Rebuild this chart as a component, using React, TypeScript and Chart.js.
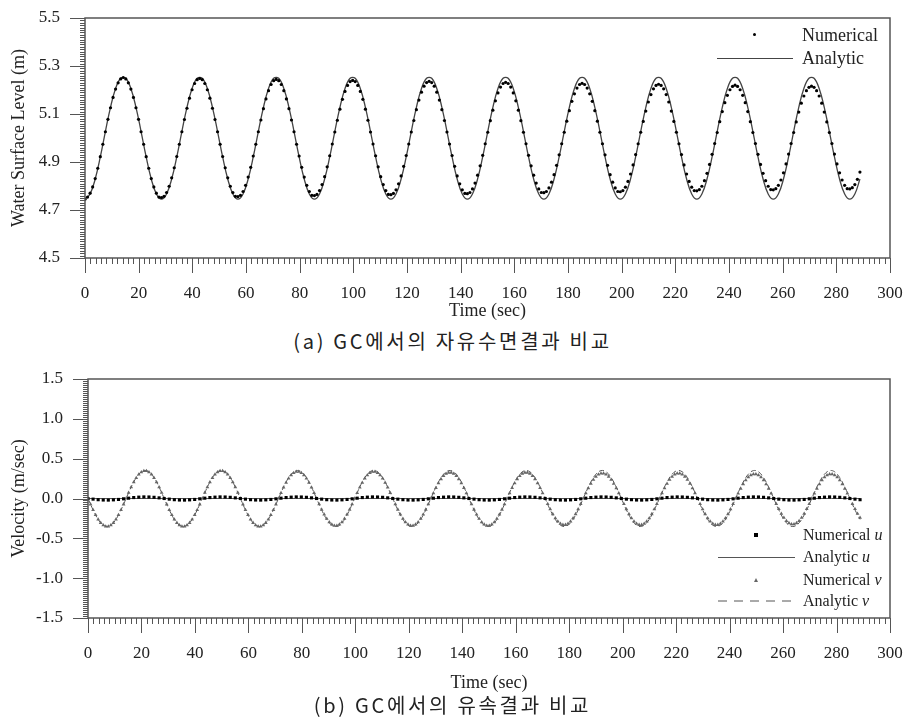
import React, { useEffect, useRef } from 'react';
import { Chart, registerables } from 'chart.js';

Chart.register(...registerables);

// ---------- DATA ----------
// sampling steps (s) of the two time grids
const NUM_DT = 0.95;   // numerical water level and numerical v
const COARSE_DT = 1.9; // analytic water level, numerical u, analytic v

const X_TICKS = [0, 20, 40, 60, 80, 100, 120, 140, 160, 180, 200, 220, 240, 260, 280, 300];
const TOP_Y_TICKS = [4.5, 4.7, 4.9, 5.1, 5.3, 5.5];
const BOT_Y_TICKS = [-1.5, -1.0, -0.5, 0.0, 0.5, 1.0, 1.5];

const WATER_NUMERICAL = [
  4.745, 4.754, 4.770, 4.796, 4.831, 4.874, 4.922, 4.974, 5.026, 5.078, 5.126, 5.169, 5.204, 5.230, 5.246, 5.252, 5.246, 5.230, 5.204, 5.169, 5.126, 5.078, 5.026, 4.974, 4.922, 4.874, 4.831, 4.796, 4.770, 4.754,
  4.752, 4.757, 4.773, 4.799, 4.834, 4.876, 4.923, 4.974, 5.026, 5.077, 5.124, 5.166, 5.201, 5.227, 5.243, 5.248, 5.243, 5.227, 5.201, 5.166, 5.124, 5.077, 5.026, 4.974, 4.923, 4.876, 4.834, 4.799, 4.773, 4.757,
  4.756, 4.761, 4.777, 4.803, 4.837, 4.878, 4.925, 4.974, 5.026, 5.075, 5.122, 5.163, 5.197, 5.223, 5.239, 5.244, 5.239, 5.223, 5.197, 5.163, 5.122, 5.075, 5.026, 4.974, 4.925, 4.878, 4.837, 4.803, 4.777, 4.761,
  4.760, 4.765, 4.781, 4.806, 4.839, 4.880, 4.926, 4.975, 5.025, 5.074, 5.120, 5.161, 5.194, 5.219, 5.235, 5.240, 5.235, 5.219, 5.194, 5.161, 5.120, 5.074, 5.025, 4.975, 4.926, 4.880, 4.839, 4.806, 4.781, 4.765,
  4.764, 4.769, 4.784, 4.809, 4.842, 4.882, 4.927, 4.975, 5.025, 5.073, 5.118, 5.158, 5.191, 5.216, 5.231, 5.236, 5.231, 5.216, 5.191, 5.158, 5.118, 5.073, 5.025, 4.975, 4.927, 4.882, 4.842, 4.809, 4.784, 4.769,
  4.768, 4.773, 4.788, 4.812, 4.845, 4.884, 4.928, 4.976, 5.024, 5.072, 5.116, 5.155, 5.188, 5.212, 5.227, 5.232, 5.227, 5.212, 5.188, 5.155, 5.116, 5.072, 5.024, 4.976, 4.928, 4.884, 4.845, 4.812, 4.788, 4.773,
  4.772, 4.777, 4.792, 4.816, 4.847, 4.886, 4.930, 4.976, 5.024, 5.070, 5.114, 5.153, 5.184, 5.208, 5.223, 5.228, 5.223, 5.208, 5.184, 5.153, 5.114, 5.070, 5.024, 4.976, 4.930, 4.886, 4.847, 4.816, 4.792, 4.777,
  4.776, 4.781, 4.795, 4.819, 4.850, 4.888, 4.931, 4.976, 5.024, 5.069, 5.112, 5.150, 5.181, 5.205, 5.219, 5.224, 5.219, 5.205, 5.181, 5.150, 5.112, 5.069, 5.024, 4.976, 4.931, 4.888, 4.850, 4.819, 4.795, 4.781,
  4.780, 4.785, 4.799, 4.822, 4.853, 4.890, 4.932, 4.977, 5.023, 5.068, 5.110, 5.147, 5.178, 5.201, 5.215, 5.220, 5.215, 5.201, 5.178, 5.147, 5.110, 5.068, 5.023, 4.977, 4.932, 4.890, 4.853, 4.822, 4.799, 4.785,
  4.784, 4.789, 4.803, 4.825, 4.855, 4.892, 4.933, 4.977, 5.023, 5.067, 5.108, 5.145, 5.175, 5.197, 5.211, 5.216, 5.211, 5.197, 5.175, 5.145, 5.108, 5.067, 5.023, 4.977, 4.933, 4.892, 4.855, 4.825, 4.803, 4.789,
  4.788, 4.793, 4.806, 4.828, 4.858,
];

const WATER_ANALYTIC = [
  4.745, 4.767, 4.829, 4.921, 5.027, 5.128, 5.206, 5.249, 5.249, 5.206, 5.128, 5.027, 4.921, 4.829, 4.767,
  4.745, 4.767, 4.829, 4.921, 5.027, 5.128, 5.206, 5.249, 5.249, 5.206, 5.128, 5.027, 4.921, 4.829, 4.767,
  4.745, 4.767, 4.829, 4.921, 5.027, 5.128, 5.206, 5.249, 5.249, 5.206, 5.128, 5.027, 4.921, 4.829, 4.767,
  4.745, 4.767, 4.829, 4.921, 5.027, 5.128, 5.206, 5.249, 5.249, 5.206, 5.128, 5.027, 4.921, 4.829, 4.767,
  4.745, 4.767, 4.829, 4.921, 5.027, 5.128, 5.206, 5.249, 5.249, 5.206, 5.128, 5.027, 4.921, 4.829, 4.767,
  4.745, 4.767, 4.829, 4.921, 5.027, 5.128, 5.206, 5.249, 5.249, 5.206, 5.128, 5.027, 4.921, 4.829, 4.767,
  4.745, 4.767, 4.829, 4.921, 5.027, 5.128, 5.206, 5.249, 5.249, 5.206, 5.128, 5.027, 4.921, 4.829, 4.767,
  4.745, 4.767, 4.829, 4.921, 5.027, 5.128, 5.206, 5.249, 5.249, 5.206, 5.128, 5.027, 4.921, 4.829, 4.767,
  4.745, 4.767, 4.829, 4.921, 5.027, 5.128, 5.206, 5.249, 5.249, 5.206, 5.128, 5.027, 4.921, 4.829, 4.767,
  4.745, 4.767, 4.829, 4.921, 5.027, 5.128, 5.206, 5.249, 5.249, 5.206, 5.128, 5.027, 4.921, 4.829, 4.767,
  4.745, 4.767, 4.829,
];

const U_NUMERICAL = [
  0, -0.008, -0.015, -0.019, -0.020, -0.017, -0.012, -0.004, 0.004, 0.012, 0.017, 0.020, 0.019, 0.015, 0.008,
  0, -0.008, -0.015, -0.019, -0.020, -0.017, -0.012, -0.004, 0.004, 0.012, 0.017, 0.020, 0.019, 0.015, 0.008,
  0, -0.008, -0.015, -0.019, -0.020, -0.017, -0.012, -0.004, 0.004, 0.012, 0.017, 0.020, 0.019, 0.015, 0.008,
  0, -0.008, -0.015, -0.019, -0.020, -0.017, -0.012, -0.004, 0.004, 0.012, 0.017, 0.020, 0.019, 0.015, 0.008,
  0, -0.008, -0.015, -0.019, -0.020, -0.017, -0.012, -0.004, 0.004, 0.012, 0.017, 0.020, 0.019, 0.015, 0.008,
  0, -0.008, -0.015, -0.019, -0.020, -0.017, -0.012, -0.004, 0.004, 0.012, 0.017, 0.020, 0.019, 0.015, 0.008,
  0, -0.008, -0.015, -0.019, -0.020, -0.017, -0.012, -0.004, 0.004, 0.012, 0.017, 0.020, 0.019, 0.015, 0.008,
  0, -0.008, -0.015, -0.019, -0.020, -0.017, -0.012, -0.004, 0.004, 0.012, 0.017, 0.020, 0.019, 0.015, 0.008,
  0, -0.008, -0.015, -0.019, -0.020, -0.017, -0.012, -0.004, 0.004, 0.012, 0.017, 0.020, 0.019, 0.015, 0.008,
  0, -0.008, -0.015, -0.019, -0.020, -0.017, -0.012, -0.004, 0.004, 0.012, 0.017, 0.020, 0.019, 0.015, 0.008,
  0, -0.008, -0.015,
];

const U_ANALYTIC_T = [0, 288.8];
const U_ANALYTIC = [0, 0];

const V_NUMERICAL = [
  0, -0.073, -0.143, -0.207, -0.262, -0.305, -0.335, -0.350, -0.350, -0.335, -0.305, -0.262, -0.207, -0.143, -0.073,
  0, 0.072, 0.142, 0.205, 0.259, 0.301, 0.331, 0.346, 0.346, 0.331, 0.301, 0.259, 0.205, 0.142, 0.072,
  0, -0.073, -0.143, -0.207, -0.262, -0.305, -0.335, -0.350, -0.350, -0.335, -0.305, -0.262, -0.207, -0.143, -0.073,
  0, 0.072, 0.142, 0.205, 0.259, 0.301, 0.331, 0.346, 0.346, 0.331, 0.301, 0.259, 0.205, 0.142, 0.072,
  0, -0.073, -0.143, -0.207, -0.262, -0.305, -0.335, -0.350, -0.350, -0.335, -0.305, -0.262, -0.207, -0.143, -0.073,
  0, 0.070, 0.138, 0.199, 0.251, 0.293, 0.321, 0.336, 0.336, 0.321, 0.293, 0.251, 0.199, 0.138, 0.070,
  0, -0.071, -0.139, -0.201, -0.254, -0.296, -0.325, -0.340, -0.340, -0.325, -0.296, -0.254, -0.201, -0.139, -0.071,
  0, 0.070, 0.138, 0.199, 0.251, 0.293, 0.321, 0.336, 0.336, 0.321, 0.293, 0.251, 0.199, 0.138, 0.070,
  0, -0.071, -0.139, -0.201, -0.254, -0.296, -0.325, -0.340, -0.340, -0.325, -0.296, -0.254, -0.201, -0.139, -0.071,
  0, 0.068, 0.133, 0.193, 0.244, 0.284, 0.312, 0.326, 0.326, 0.312, 0.284, 0.244, 0.193, 0.133, 0.068,
  0, -0.071, -0.139, -0.201, -0.254, -0.296, -0.325, -0.340, -0.340, -0.325, -0.296, -0.254, -0.201, -0.139, -0.071,
  0, 0.068, 0.133, 0.193, 0.244, 0.284, 0.312, 0.326, 0.326, 0.312, 0.284, 0.244, 0.193, 0.133, 0.068,
  0, -0.069, -0.135, -0.195, -0.247, -0.288, -0.316, -0.330, -0.330, -0.316, -0.288, -0.247, -0.195, -0.135, -0.069,
  0, 0.066, 0.129, 0.187, 0.236, 0.275, 0.302, 0.316, 0.316, 0.302, 0.275, 0.236, 0.187, 0.129, 0.066,
  0, -0.069, -0.135, -0.195, -0.247, -0.288, -0.316, -0.330, -0.330, -0.316, -0.288, -0.247, -0.195, -0.135, -0.069,
  0, 0.066, 0.129, 0.187, 0.236, 0.275, 0.302, 0.316, 0.316, 0.302, 0.275, 0.236, 0.187, 0.129, 0.066,
  0, -0.069, -0.135, -0.195, -0.247, -0.288, -0.316, -0.330, -0.330, -0.316, -0.288, -0.247, -0.195, -0.135, -0.069,
  0, 0.064, 0.125, 0.181, 0.229, 0.267, 0.293, 0.306, 0.306, 0.293, 0.267, 0.229, 0.181, 0.125, 0.064,
  0, -0.067, -0.132, -0.191, -0.241, -0.281, -0.308, -0.322, -0.322, -0.308, -0.281, -0.241, -0.191, -0.132, -0.067,
  0, 0.064, 0.125, 0.181, 0.229, 0.267, 0.293, 0.306, 0.306, 0.293, 0.267, 0.229, 0.181, 0.125, 0.064,
  0, -0.067, -0.132, -0.191, -0.241,
];

const V_ANALYTIC = [
  0, -0.143, -0.262, -0.335, -0.350, -0.305, -0.207, -0.073, 0.073, 0.207, 0.305, 0.350, 0.335, 0.262, 0.143,
  0, -0.143, -0.262, -0.335, -0.350, -0.305, -0.207, -0.073, 0.073, 0.207, 0.305, 0.350, 0.335, 0.262, 0.143,
  0, -0.143, -0.262, -0.335, -0.350, -0.305, -0.207, -0.073, 0.073, 0.207, 0.305, 0.350, 0.335, 0.262, 0.143,
  0, -0.143, -0.262, -0.335, -0.350, -0.305, -0.207, -0.073, 0.073, 0.207, 0.305, 0.350, 0.335, 0.262, 0.143,
  0, -0.143, -0.262, -0.335, -0.350, -0.305, -0.207, -0.073, 0.073, 0.207, 0.305, 0.350, 0.335, 0.262, 0.143,
  0, -0.143, -0.262, -0.335, -0.350, -0.305, -0.207, -0.073, 0.073, 0.207, 0.305, 0.350, 0.335, 0.262, 0.143,
  0, -0.143, -0.262, -0.335, -0.350, -0.305, -0.207, -0.073, 0.073, 0.207, 0.305, 0.350, 0.335, 0.262, 0.143,
  0, -0.143, -0.262, -0.335, -0.350, -0.305, -0.207, -0.073, 0.073, 0.207, 0.305, 0.350, 0.335, 0.262, 0.143,
  0, -0.143, -0.262, -0.335, -0.350, -0.305, -0.207, -0.073, 0.073, 0.207, 0.305, 0.350, 0.335, 0.262, 0.143,
  0, -0.143, -0.262, -0.335, -0.350, -0.305, -0.207, -0.073, 0.073, 0.207, 0.305, 0.350, 0.335, 0.262, 0.143,
  0, -0.143, -0.262,
];

// ---------- STYLE ----------
const SERIF = "'Liberation Serif', 'Times New Roman', Times, serif";
const TEXT = '#222';
const AXIS = '#555';

const frameTicks = {
  id: 'frameTicks',
  afterDraw(chart: any, _args: any, opts: any) {
    const { ctx, chartArea } = chart;
    const { left, right, top, bottom } = chartArea;
    const xs = chart.scales.x;
    const ys = chart.scales.y;
    ctx.save();
    ctx.strokeStyle = AXIS;
    ctx.lineWidth = 1;
    ctx.beginPath();
    const nx = Math.round((xs.max - xs.min) / opts.xMinor);
    for (let i = 0; i <= nx; i++) {
      const px = Math.round(xs.getPixelForValue(xs.min + i * opts.xMinor)) + 0.5;
      const len = i % opts.xMajorEvery === 0 ? opts.xMajorLen : opts.xMinorLen;
      ctx.moveTo(px, bottom);
      ctx.lineTo(px, bottom + len);
    }
    const ny = Math.round((ys.max - ys.min) / opts.yMinor);
    for (let i = 0; i <= ny; i++) {
      const py = Math.round(ys.getPixelForValue(ys.min + i * opts.yMinor)) + 0.5;
      const len = i % opts.yMajorEvery === 0 ? opts.yMajorLen : opts.yMinorLen;
      ctx.moveTo(left, py);
      ctx.lineTo(left - len, py);
    }
    ctx.stroke();
    ctx.lineWidth = 1.5;
    ctx.strokeRect(left, top, right - left, bottom - top);
    ctx.restore();
  },
};

function buildOptions(p: {
  padTop: number; yWidth: number; xHeight: number; titleBottom: number;
  yTicks: number[]; yTitle: string; yMinor: number; yMajorEvery: number;
}) {
  return {
    responsive: false,
    animation: false,
    devicePixelRatio: 1,
    layout: { padding: { left: 0, right: 15, top: p.padTop, bottom: 0 } },
    elements: { line: { tension: 0.4 } },
    plugins: {
      legend: { display: false },
      tooltip: { enabled: false },
      frameTicks: {
        xMinor: 2, xMajorEvery: 10, xMajorLen: 15, xMinorLen: 6,
        yMinor: p.yMinor, yMajorEvery: p.yMajorEvery, yMajorLen: 15, yMinorLen: 5,
      },
    },
    scales: {
      x: {
        type: 'linear',
        min: X_TICKS[0],
        max: X_TICKS[X_TICKS.length - 1],
        grid: { display: false, drawTicks: false },
        border: { display: false },
        afterBuildTicks: (s: any) => { s.ticks = X_TICKS.map((v) => ({ value: v })); },
        ticks: {
          autoSkip: false, maxRotation: 0, padding: 25, color: TEXT,
          font: { family: SERIF, size: 17 },
          callback: (v: any) => String(v),
        },
        title: {
          display: true, text: 'Time (sec)', color: TEXT,
          font: { family: SERIF, size: 18 },
          padding: { top: 0, bottom: p.titleBottom },
        },
        afterFit: (s: any) => { s.height = p.xHeight; s.paddingLeft = 0; s.paddingRight = 0; },
      },
      y: {
        type: 'linear',
        min: p.yTicks[0],
        max: p.yTicks[p.yTicks.length - 1],
        grid: { display: false, drawTicks: false },
        border: { display: false },
        afterBuildTicks: (s: any) => { s.ticks = p.yTicks.map((v) => ({ value: v })); },
        ticks: {
          autoSkip: false, padding: 25, color: TEXT,
          font: { family: SERIF, size: 17 },
          callback: (v: any) => Number(v).toFixed(1),
        },
        title: {
          display: true, text: p.yTitle, color: TEXT,
          font: { family: SERIF, size: 18 },
          padding: { top: 8, bottom: 0 },
        },
        afterFit: (s: any) => { s.width = p.yWidth; s.paddingTop = 0; s.paddingBottom = 0; },
      },
    },
  };
}

const pts = (vals: number[], dt: number) => vals.map((y, i) => ({ x: i * dt, y }));

const legendText = (fs: number): React.CSSProperties => ({
  position: 'absolute', fontFamily: SERIF, fontSize: fs, lineHeight: `${fs}px`,
  color: TEXT, whiteSpace: 'nowrap',
});

const captionStyle = (top: number): React.CSSProperties => ({
  position: 'absolute', left: 0, width: 905, top, textAlign: 'center',
  fontFamily: "'Noto Sans CJK KR', 'Noto Sans', sans-serif", fontSize: 20,
  lineHeight: '24px', letterSpacing: 2.7, color: '#222', whiteSpace: 'pre',
});

export default function App() {
  const topRef = useRef<HTMLCanvasElement>(null);
  const botRef = useRef<HTMLCanvasElement>(null);

  useEffect(() => {
    const top = new Chart(topRef.current as HTMLCanvasElement, {
      type: 'line',
      data: {
        datasets: [
          {
            label: 'Numerical', data: pts(WATER_NUMERICAL, NUM_DT), showLine: false,
            pointRadius: 1.6, pointBackgroundColor: '#000', pointBorderWidth: 0, pointStyle: 'circle',
          },
          {
            label: 'Analytic', data: pts(WATER_ANALYTIC, COARSE_DT), borderColor: '#444',
            borderWidth: 1.3, pointRadius: 0, fill: false,
          },
        ],
      },
      options: buildOptions({
        padTop: 18, yWidth: 85, xHeight: 67, titleBottom: 3,
        yTicks: TOP_Y_TICKS, yTitle: 'Water Surface Level (m)', yMinor: 0.01, yMajorEvery: 20,
      }) as any,
      plugins: [frameTicks],
    });

    const bot = new Chart(botRef.current as HTMLCanvasElement, {
      type: 'line',
      data: {
        datasets: [
          {
            label: 'Numerical u', data: pts(U_NUMERICAL, COARSE_DT), showLine: false,
            pointRadius: 2.2, pointBackgroundColor: '#000', pointBorderWidth: 0, pointStyle: 'rect',
          },
          {
            label: 'Numerical v', data: pts(V_NUMERICAL, NUM_DT), showLine: false,
            pointRadius: 2.2, pointBackgroundColor: '#666', pointBorderWidth: 0, pointStyle: 'triangle',
          },
          {
            label: 'Analytic u', data: U_ANALYTIC.map((y, i) => ({ x: U_ANALYTIC_T[i], y })),
            borderColor: '#555', borderWidth: 1, pointRadius: 0, fill: false,
          },
          {
            label: 'Analytic v', data: pts(V_ANALYTIC, COARSE_DT), borderColor: '#555',
            borderWidth: 1, borderDash: [5, 3], pointRadius: 0, fill: false,
          },
        ],
      },
      options: buildOptions({
        padTop: 19, yWidth: 88, xHeight: 77, titleBottom: 1,
        yTicks: BOT_Y_TICKS, yTitle: 'Velocity (m/sec)', yMinor: 0.025, yMajorEvery: 20,
      }) as any,
      plugins: [frameTicks],
    });

    return () => { top.destroy(); bot.destroy(); };
  }, []);

  return (
    <div style={{ position: 'fixed', left: 0, top: 0, width: 905, height: 718, background: '#fff', overflow: 'hidden' }}>
      <canvas ref={topRef} width={905} height={325}
        style={{ position: 'absolute', left: 0, top: 0, width: 905, height: 325 }} />
      <canvas ref={botRef} width={905} height={335}
        style={{ position: 'absolute', left: 0, top: 360, width: 905, height: 335 }} />

      {/* top legend */}
      <div style={{ position: 'absolute', left: 753, top: 33, width: 3, height: 3, borderRadius: 2, background: '#000' }} />
      <div style={{ ...legendText(18), left: 802, top: 26 }}>Numerical</div>
      <div style={{ position: 'absolute', left: 717, top: 58, width: 76, height: 1, background: '#444' }} />
      <div style={{ ...legendText(18), left: 802, top: 49 }}>Analytic</div>

      {/* bottom legend */}
      <div style={{ position: 'absolute', left: 754, top: 533, width: 4, height: 4, background: '#000' }} />
      <div style={{ ...legendText(16), left: 803, top: 527 }}>Numerical <i>u</i></div>
      <div style={{ position: 'absolute', left: 718, top: 557, width: 77, height: 1, background: '#555' }} />
      <div style={{ ...legendText(16), left: 803, top: 549 }}>Analytic <i>u</i></div>
      <div style={{
        position: 'absolute', left: 754, top: 578, width: 0, height: 0,
        borderLeft: '2px solid transparent', borderRight: '2px solid transparent', borderBottom: '4px solid #666',
      }} />
      <div style={{ ...legendText(16), left: 803, top: 572 }}>Numerical <i>v</i></div>
      <svg style={{ position: 'absolute', left: 718, top: 599 }} width={78} height={4}>
        <line x1={0} y1={2} x2={78} y2={2} stroke="#555" strokeWidth={1} strokeDasharray="9 7" />
      </svg>
      <div style={{ ...legendText(16), left: 803, top: 593 }}>Analytic <i>v</i></div>

      {/* captions */}
      <div style={captionStyle(329)}>(a) GC에서의 자유수면결과 비교</div>
      <div style={captionStyle(693)}>(b) GC에서의 유속결과 비교</div>
    </div>
  );
}
